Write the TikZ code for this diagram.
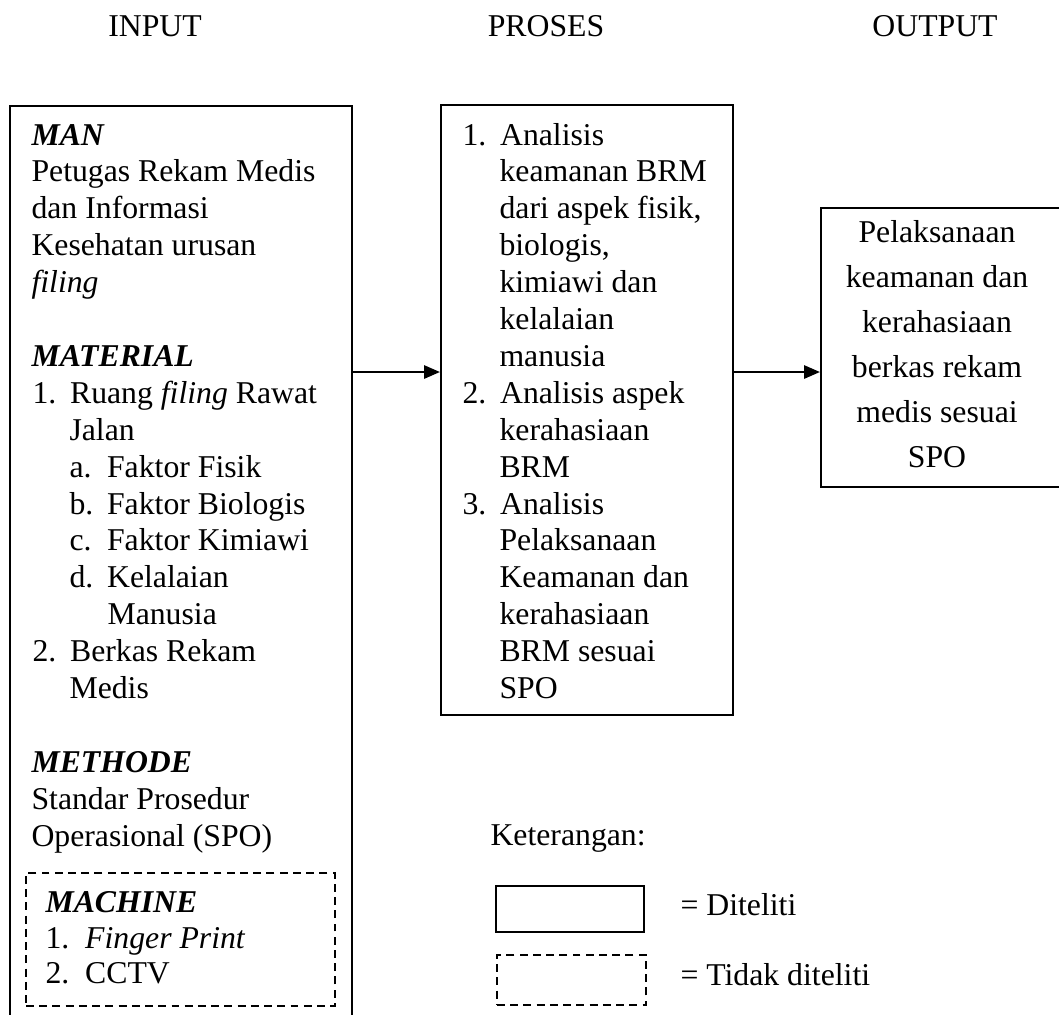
\documentclass[tikz,border=0pt]{standalone}
\usepackage{fontspec}
\setmainfont{Liberation Serif}
\usetikzlibrary{arrows.meta}
\usetikzlibrary{fit}
\newcommand{\pitch}{36.9}
\newcommand{\numitem}[3][14.2pt]{\makebox[#1][l]{#2}#3}
\tikzset{
    line/.style={anchor=base west, inner sep=0pt, font=\fontsize{12}{14}\selectfont},
    mid/.style={line, anchor=base},
    box/.style={draw, line width=0.8pt, inner sep=0pt},
    dbox/.style={box, dash pattern=on 3pt off 2pt},
    arr/.style={line width=0.8pt, -{Triangle[length=6pt,width=5pt]}}
}
\begin{document}
\begin{tikzpicture}[x=0.378pt, y=-0.378pt]
    \useasboundingbox (0,0) rectangle (1059,1014);

    % column titles
    \node[mid] (hin) at (155,36) {INPUT};
    \node[mid] (hpr) at (546,36) {PROSES};
    \node[mid] (hout) at (935,36) {OUTPUT};

    % boxes
    \node[box, fit={(10,106) (352,1030)}] (inbox) {};
    \node[box, fit={(441,105) (733,715)}] (prbox) {};
    \node[box, fit={(821,208) (1066,487)}] (outbox) {};
    \node[dbox, fit={(26,873) (335,1006)}] (machbox) {};

    % input
    \foreach \n/\x/\t [count=\i] in {
        0/31/{\textbf{\textit{MAN}}}, 1/31/Petugas Rekam Medis, 2/31/dan Informasi,
        3/31/Kesehatan urusan, 4/31/{\textit{filing}},
        6/31/{\textbf{\textit{MATERIAL}}}, 7/32/{\numitem{1.}{Ruang \textit{filing} Rawat}},
        8/69/Jalan, 9/69/{\numitem{a.}{Faktor Fisik}}, 10/69/{\numitem{b.}{Faktor Biologis}},
        11/69/{\numitem{c.}{Faktor Kimiawi}}, 12/69/{\numitem{d.}{Kelalaian}}, 13/107/Manusia,
        14/32/{\numitem{2.}{Berkas Rekam}}, 15/69/Medis,
        17/31/{\textbf{\textit{METHODE}}}, 18/31/Standar Prosedur, 19/31/Operasional (SPO)}
        \node[line] (in\i) at (\x,145+\n*\pitch) {\t};
    \node[line] (mach1) at (45,912) {\textbf{\textit{MACHINE}}};
    \node[line] (mach2) at (45,948) {\numitem[15pt]{1.}{\textit{Finger Print}}};
    \node[line] (mach3) at (45,983) {\numitem[15pt]{2.}{CCTV}};

    % proses
    \foreach \n/\x/\t [count=\i] in {
        0/462/{\numitem{1.}{Analisis}}, 1/499/keamanan BRM, 2/499/{dari aspek fisik,},
        3/499/{biologis,}, 4/499/kimiawi dan, 5/499/kelalaian, 6/499/manusia,
        7/462/{\numitem{2.}{Analisis aspek}}, 8/499/kerahasiaan, 9/499/BRM,
        10/462/{\numitem{3.}{Analisis}}, 11/499/Pelaksanaan, 12/499/Keamanan dan,
        13/499/kerahasiaan, 14/499/BRM sesuai, 15/499/SPO}
        \node[line] (pr\i) at (\x,145+\n*\pitch) {\t};

    % output
    \foreach \t [count=\i from 0] in {Pelaksanaan, keamanan dan, kerahasiaan,
        berkas rekam, medis sesuai, SPO}
        \node[mid] (out\i) at (937,242+\i*45) {\t};

    \coordinate (ay) at (0,372);
    \draw[arr] (inbox.east |- ay) -- (prbox.west |- ay);
    \draw[arr] (prbox.east |- ay) -- (outbox.west |- ay);

    % legend
    \node[line] (ket) at (490,845) {Keterangan:};
    \node[box, fit={(496,886) (644,932)}] (legsolid) {};
    \node[dbox, fit={(497,955) (646,1005)}] (legdash) {};
    \node[line] (legsolidtxt) at (680,915) {= Diteliti};
    \node[line] (legdashtxt) at (680,985) {= Tidak diteliti};
\end{tikzpicture}
\end{document}
